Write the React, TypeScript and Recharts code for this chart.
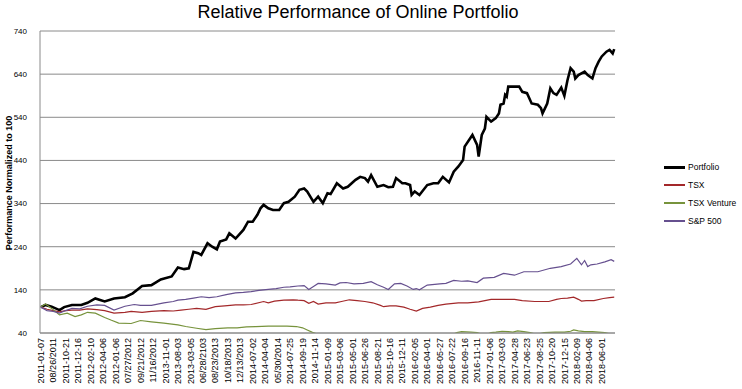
import { LineChart, Line, XAxis, YAxis, CartesianGrid } from 'recharts'

// x positions are week numbers counted from 2011-01-07 (weekly closes, 369 weeks)
const tickLabels = [
  '2011-01-07', '08/26/2011', '2011-10-21', '2011-12-16', '2012-02-10', '2012-04-06',
  '2012-01-06', '07/27/2012', '09/21/2012', '11/16/2012', '2013-11-01', '2013-08-03',
  '2013-03-05', '06/28/2103', '08/23/2013', '10/18/2013', '12/13/2013', '2014-07-02',
  '2014-04-04', '05/30/2014', '2014-07-25', '2014-09-19', '2014-11-14', '2015-01-09',
  '2015-03-06', '2015-05-01', '2015-06-26', '2015-08-21', '2015-10-16', '2015-12-11',
  '2016-02-05', '2016-04-01', '2016-05-27', '2016-07-22', '2016-09-16', '2016-11-11',
  '2017-01-06', '2017-03-03', '2017-04-28', '2017-06-23', '2017-08-25', '2017-10-20',
  '2017-12-15', '2018-02-09', '2018-04-06', '2018-06-01',
]
const tickWeeks = tickLabels.map((_, i) => i * 8)
const yTicks = [40, 140, 240, 340, 440, 540, 640, 740]

const portfolioWeeks = [
  0, 3, 7, 12, 15, 20, 26, 30, 35, 41, 47, 54, 59, 65, 71, 77, 84, 88, 92, 95,
  98, 101, 103, 107, 110, 113, 115, 119, 121, 125, 127, 130, 133, 136, 139, 141, 143, 146, 149, 153,
  156, 159, 163, 166, 169, 171, 175, 178, 181, 184, 186, 190, 194, 197, 202, 205, 208, 210, 212, 216,
  220, 223, 226, 228, 232, 234, 237, 238, 240, 243, 248, 252, 255, 258, 262, 265, 268, 271, 272, 277,
  280, 281, 283, 285, 286, 289, 292, 294, 295, 297, 298, 299, 300, 307, 309, 312, 313, 315, 319, 321,
  322, 325, 327, 329, 331, 334, 336, 338, 340, 342, 343, 345, 349, 351, 354, 356, 358, 360, 363, 365,
  367, 368,
]
const portfolioValues = [
  100, 105, 101, 93, 100, 105, 105, 110, 120, 113, 120, 123, 132, 149, 151, 164, 171, 192, 188, 190,
  228, 225, 221, 248, 240, 234, 252, 257, 271, 259, 267, 279, 298, 298, 314, 329, 337, 329, 325, 325,
  341, 344, 356, 372, 375, 368, 344, 356, 341, 364, 362, 387, 375, 379, 395, 402, 399, 391, 406, 379,
  383, 378, 379, 399, 387, 387, 383, 360, 368, 360, 383, 387, 387, 402, 389, 414, 426, 441, 472, 499,
  476, 449, 499, 514, 541, 530, 538, 549, 569, 572, 592, 588, 611, 611, 599, 596, 588, 572, 569, 561,
  549, 572, 607, 596, 592, 609, 590, 626, 654, 646, 630, 638, 646, 638, 630, 654, 669, 681, 692, 696,
  688, 698,
]

const tsxWeeks = [
  0, 4, 8, 12, 16, 20, 25, 30, 36, 41, 47, 54, 58, 65, 71, 79, 85, 90, 95, 100,
  106, 112, 118, 125, 130, 135, 143, 146, 150, 156, 162, 165, 169, 172, 175, 178, 183, 189, 193, 198,
  203, 208, 213, 218, 220, 224, 228, 233, 237, 241, 245, 250, 255, 260, 268, 274, 281, 285, 289, 298,
  304, 309, 317, 320, 326, 331, 334, 338, 342, 345, 347, 350, 355, 361, 365, 368,
]
const tsxValues = [
  100, 95, 92, 89, 92, 93, 93, 96, 94, 92, 86, 88, 90, 88, 90, 92, 91, 93, 95, 97,
  95, 101, 103, 105, 105, 106, 113, 110, 114, 116, 117, 116, 115, 109, 113, 107, 110, 110, 113, 117,
  115, 113, 110, 104, 101, 103, 103, 100, 95, 91, 97, 100, 104, 107, 110, 110, 112, 115, 118, 118,
  118, 115, 113, 113, 113, 118, 120, 121, 123, 118, 114, 115, 115, 120, 122, 123,
]

const ventureWeeks = [
  0, 3, 7, 12, 17, 22, 26, 30, 35, 41, 45, 50, 58, 64, 71, 79, 88, 93, 100, 106,
  112, 120, 126, 132, 138, 146, 152, 158, 164, 168, 171, 174, 177, 180, 190, 210, 230, 250, 264, 267,
  270, 276, 280, 283, 287, 289, 292, 296, 300, 303, 306, 310, 314, 317, 320, 323, 330, 336, 340, 342,
  345, 349, 354, 358, 362, 365, 368,
]
const ventureValues = [
  100, 107, 97, 82, 86, 78, 82, 88, 86, 76, 70, 63, 62, 69, 66, 63, 59, 55, 51, 48,
  50, 52, 52, 54, 55, 56, 56, 56, 55, 52, 47, 42, 38, 33, 28, 26, 27, 30, 36, 41,
  43, 42, 41, 37, 38, 41, 42, 44, 43, 42, 45, 43, 41, 38, 38, 41, 42, 42, 44, 47,
  45, 43, 43, 42, 41, 38, 37,
]

const spWeeks = [
  0, 4, 8, 12, 16, 20, 25, 30, 36, 41, 47, 54, 60, 64, 71, 79, 85, 88, 93, 98,
  103, 108, 113, 119, 125, 130, 135, 140, 146, 151, 156, 160, 165, 169, 172, 175, 178, 183, 189, 192,
  196, 201, 207, 212, 216, 220, 223, 227, 231, 235, 239, 241, 243, 248, 256, 260, 265, 270, 274, 280,
  284, 291, 297, 304, 310, 319, 327, 334, 340, 344, 347, 349, 351, 353, 357, 362, 366, 368,
]
const spValues = [
  100, 92, 90, 86, 92, 97, 96, 102, 105, 104, 93, 102, 106, 104, 104, 110, 113, 116, 118, 121,
  124, 122, 124, 129, 133, 134, 136, 139, 141, 143, 146, 147, 149, 150, 141, 148, 155, 154, 151, 156,
  157, 154, 155, 159, 152, 146, 141, 154, 155, 149, 141, 143, 140, 151, 154, 155, 162, 160, 161, 157,
  167, 169, 178, 174, 182, 182, 190, 194, 200, 213, 198, 208, 194, 198, 200, 205, 210, 206,
]

const toPoints = (weeks: number[], values: number[]) => weeks.map((w, i) => ({ w, v: values[i] }))

const series = [
  { name: 'Portfolio', color: '#000000', width: 2.6, key: 3, data: toPoints(portfolioWeeks, portfolioValues) },
  { name: 'TSX', color: '#A3282A', width: 1.2, key: 1.3, data: toPoints(tsxWeeks, tsxValues) },
  { name: 'TSX Venture', color: '#77933C', width: 1.2, key: 1.3, data: toPoints(ventureWeeks, ventureValues) },
  { name: 'S&P 500', color: '#66508F', width: 1.2, key: 1.3, data: toPoints(spWeeks, spValues) },
]

const FONT = '"Liberation Sans", Arial, sans-serif'
const GRID = '#8a8a8a'

function WeekTick({ x, y, payload }: any) {
  const label = tickLabels[Math.round(payload.value / 8)] ?? ''
  return (
    <text
      x={0}
      y={0}
      transform={`translate(${x},${y}) rotate(-90)`}
      textAnchor="end"
      dy="0.35em"
      fontSize={9}
      fontFamily={FONT}
      fill="#000"
    >
      {label}
    </text>
  )
}

export default function App() {
  return (
    <div style={{ position: 'absolute', left: 0, top: 0, width: 742, height: 389, background: '#fff', fontFamily: FONT }}>
      <div style={{ position: 'absolute', left: 0, top: 2, width: 716, textAlign: 'center', fontSize: 18, color: '#000' }}>
        Relative Performance of Online Portfolio
      </div>
      <div style={{ position: 'absolute', left: 8.5, top: 183, width: 0, height: 0 }}>
        <div
          style={{
            position: 'absolute', left: 0, top: 0, transform: 'translate(-50%, -50%) rotate(-90deg)',
            whiteSpace: 'nowrap', fontSize: 9, lineHeight: '10px', fontWeight: 'bold', color: '#000',
          }}
        >
          Performance Normalized to 100
        </div>
      </div>

      <LineChart width={742} height={389} margin={{ top: 31, right: 127, bottom: 0, left: 0 }}>
        <CartesianGrid vertical={false} stroke={GRID} strokeWidth={1} />
        <XAxis
          type="number"
          dataKey="w"
          domain={[-0.5, 368.5]}
          ticks={tickWeeks}
          interval={0}
          tick={<WeekTick />}
          tickLine={false}
          tickSize={3}
          tickMargin={2}
          height={56}
          stroke={GRID}
        />
        <YAxis
          type="number"
          domain={[40, 740]}
          ticks={yTicks}
          allowDataOverflow
          width={40}
          tickLine={false}
          tickSize={5}
          tickMargin={8}
          stroke={GRID}
          tick={{ fontSize: 8, fill: '#000', fontFamily: FONT }}
        />
        {series.map(s => (
          <Line
            key={s.name}
            data={s.data}
            dataKey="v"
            name={s.name}
            type="linear"
            stroke={s.color}
            strokeWidth={s.width}
            dot={false}
            activeDot={false}
            isAnimationActive={false}
          />
        ))}
      </LineChart>

      <div style={{ position: 'absolute', left: 664, top: 158 }}>
        {series.map(s => (
          <div key={s.name} style={{ display: 'flex', alignItems: 'center', height: 18, fontSize: 8.5, color: '#000' }}>
            <div style={{ width: 21, height: s.key, background: s.color, marginRight: 3 }} />
            <span>{s.name}</span>
          </div>
        ))}
      </div>
    </div>
  )
}
